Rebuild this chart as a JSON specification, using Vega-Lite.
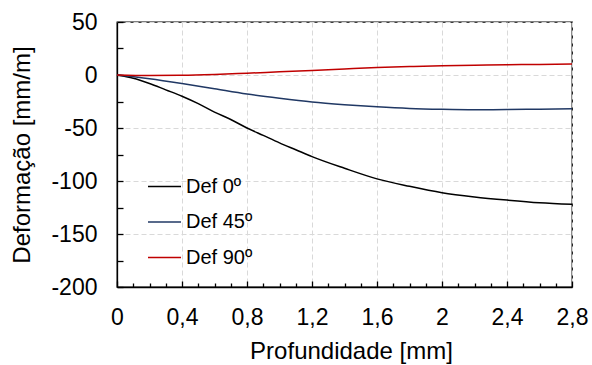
{
  "$schema": "https://vega.github.io/schema/vega-lite/v6.json",
  "width": 455,
  "height": 265,
  "autosize": "none",
  "padding": {"left": 117, "top": 22, "right": 20, "bottom": 78},
  "config": {
    "font": "Liberation Sans",
    "view": {"stroke": "black", "strokeWidth": 1.3},
    "axis": {
      "domainColor": "black",
      "domainWidth": 1.3,
      "tickColor": "black",
      "tickWidth": 1.3,
      "labelColor": "black",
      "titleColor": "black",
      "labelFont": "Liberation Sans",
      "titleFont": "Liberation Sans",
      "labelFontSize": 23,
      "titleFontSize": 24,
      "titleFontWeight": "normal",
      "gridColor": "#d9d9d9",
      "gridDash": [5, 3],
      "gridWidth": 1
    }
  },
  "data": {
    "values": [
      {"depth": 0, "def": 0, "s": "Def 0º"},
      {"depth": 0.1, "def": -3, "s": "Def 0º"},
      {"depth": 0.2, "def": -8, "s": "Def 0º"},
      {"depth": 0.3, "def": -14, "s": "Def 0º"},
      {"depth": 0.4, "def": -20, "s": "Def 0º"},
      {"depth": 0.5, "def": -27, "s": "Def 0º"},
      {"depth": 0.6, "def": -35, "s": "Def 0º"},
      {"depth": 0.7, "def": -42, "s": "Def 0º"},
      {"depth": 0.8, "def": -50, "s": "Def 0º"},
      {"depth": 0.9, "def": -57, "s": "Def 0º"},
      {"depth": 1.0, "def": -64, "s": "Def 0º"},
      {"depth": 1.1, "def": -70.5, "s": "Def 0º"},
      {"depth": 1.2, "def": -77, "s": "Def 0º"},
      {"depth": 1.4, "def": -88, "s": "Def 0º"},
      {"depth": 1.6, "def": -98, "s": "Def 0º"},
      {"depth": 1.8, "def": -105, "s": "Def 0º"},
      {"depth": 2.0, "def": -111, "s": "Def 0º"},
      {"depth": 2.2, "def": -115, "s": "Def 0º"},
      {"depth": 2.4, "def": -118, "s": "Def 0º"},
      {"depth": 2.6, "def": -120.5, "s": "Def 0º"},
      {"depth": 2.8, "def": -122, "s": "Def 0º"},
      {"depth": 0, "def": 0, "s": "Def 45º"},
      {"depth": 0.2, "def": -3.5, "s": "Def 45º"},
      {"depth": 0.4, "def": -8, "s": "Def 45º"},
      {"depth": 0.6, "def": -13, "s": "Def 45º"},
      {"depth": 0.8, "def": -18, "s": "Def 45º"},
      {"depth": 1.0, "def": -22, "s": "Def 45º"},
      {"depth": 1.2, "def": -25.5, "s": "Def 45º"},
      {"depth": 1.4, "def": -28, "s": "Def 45º"},
      {"depth": 1.6, "def": -30, "s": "Def 45º"},
      {"depth": 1.8, "def": -31.5, "s": "Def 45º"},
      {"depth": 2.0, "def": -32.3, "s": "Def 45º"},
      {"depth": 2.2, "def": -32.7, "s": "Def 45º"},
      {"depth": 2.4, "def": -32.6, "s": "Def 45º"},
      {"depth": 2.6, "def": -32.2, "s": "Def 45º"},
      {"depth": 2.8, "def": -31.8, "s": "Def 45º"},
      {"depth": 0, "def": 0, "s": "Def 90º"},
      {"depth": 0.2, "def": -0.5, "s": "Def 90º"},
      {"depth": 0.4, "def": -0.3, "s": "Def 90º"},
      {"depth": 0.6, "def": 0.5, "s": "Def 90º"},
      {"depth": 0.8, "def": 1.7, "s": "Def 90º"},
      {"depth": 1.0, "def": 3, "s": "Def 90º"},
      {"depth": 1.2, "def": 4.3, "s": "Def 90º"},
      {"depth": 1.4, "def": 5.7, "s": "Def 90º"},
      {"depth": 1.6, "def": 7, "s": "Def 90º"},
      {"depth": 1.8, "def": 8, "s": "Def 90º"},
      {"depth": 2.0, "def": 8.8, "s": "Def 90º"},
      {"depth": 2.2, "def": 9.3, "s": "Def 90º"},
      {"depth": 2.4, "def": 9.7, "s": "Def 90º"},
      {"depth": 2.6, "def": 10, "s": "Def 90º"},
      {"depth": 2.8, "def": 10.3, "s": "Def 90º"}
    ]
  },
  "layer": [
    {
      "mark": {"type": "line", "interpolate": "monotone", "strokeWidth": 1.5},
      "encoding": {
        "x": {
          "field": "depth", "type": "quantitative",
          "scale": {"domain": [0, 2.8], "nice": false, "zero": false},
          "axis": {
            "values": [0, 0.4, 0.8, 1.2, 1.6, 2, 2.4, 2.8],
            "labelExpr": "replace(format(datum.value, '~g'), '.', ',')",
            "tickSize": -6,
            "labelPadding": 25,
            "labelFlush": false,
            "labelOverlap": false,
            "grid": true,
            "title": "Profundidade [mm]",
            "titleX": 234,
            "titleY": 71,
            "titleBaseline": "alphabetic",
            "titleAnchor": "middle",
            "orient": "bottom"
          }
        },
        "y": {
          "field": "def", "type": "quantitative",
          "scale": {"domain": [-200, 50], "nice": false, "zero": false},
          "axis": {
            "values": [-200, -150, -100, -50, 0, 50],
            "labelExpr": "toString(datum.value)",
            "tickSize": -6,
            "labelPadding": 26,
            "labelFlush": false,
            "labelOverlap": false,
            "grid": true,
            "title": "Deformação [mm/m]",
            "titleX": -95,
            "titleY": 132.5,
            "titleBaseline": "middle",
            "titleAnchor": "middle",
            "orient": "left"
          }
        },
        "color": {
          "field": "s", "type": "nominal",
          "scale": {"domain": ["Def 0º", "Def 45º", "Def 90º"], "range": ["#000000", "#203864", "#C00000"]},
          "legend": {
            "title": null,
            "orient": "none",
            "legendX": 30,
            "legendY": 147,
            "padding": 0,
            "symbolType": "stroke",
            "symbolSize": 1089,
            "symbolStrokeWidth": 1.5,
            "labelFontSize": 20,
            "labelFont": "Liberation Sans",
            "labelColor": "black",
            "labelOffset": 4,
            "rowPadding": 7.5
          }
        }
      }
    },
    {
      "mark": {"type": "line", "opacity": 0},
      "encoding": {
        "x": {
          "field": "depth", "type": "quantitative",
          "axis": {
            "values": [0.1, 0.2, 0.3, 0.5, 0.6, 0.7, 0.9, 1.0, 1.1, 1.3, 1.4, 1.5, 1.7, 1.8, 1.9, 2.1, 2.2, 2.3, 2.5, 2.6, 2.7],
            "tickSize": -4,
            "labels": false,
            "domain": false,
            "grid": false,
            "title": null,
            "orient": "bottom"
          }
        },
        "y": {
          "field": "def", "type": "quantitative",
          "axis": {
            "values": [-175, -125, -75, -25, 25],
            "tickSize": -6,
            "labels": false,
            "domain": false,
            "grid": false,
            "title": null,
            "orient": "left"
          }
        }
      }
    }
  ],
  "resolve": {"axis": {"x": "independent", "y": "independent"}}
}
